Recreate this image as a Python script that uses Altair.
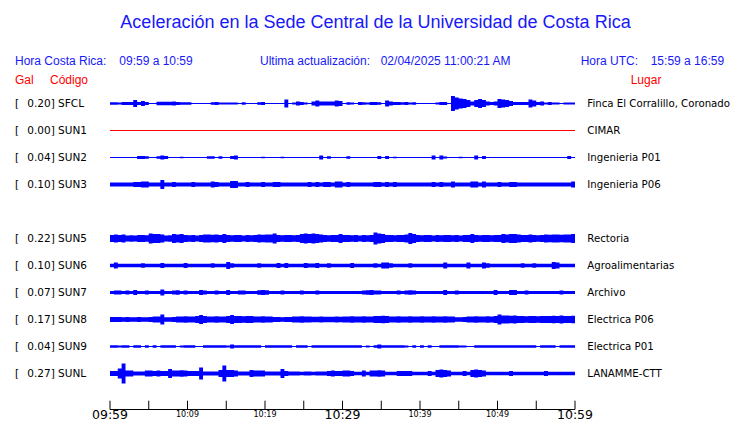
import altair as alt
import pandas as pd

# ---------------- data ----------------
station_codes = ["SFCL", "SUN1", "SUN2", "SUN3", "SUN5", "SUN6", "SUN7", "SUN8", "SUN9", "SUNL"]
gal_values = ["0.20", "0.00", "0.04", "0.10", "0.22", "0.10", "0.07", "0.17", "0.04", "0.27"]
places = ["Finca El Corralillo, Coronado", "CIMAR", "Ingenieria P01", "Ingenieria P06",
          "Rectoria", "Agroalimentarias", "Archivo", "Electrica P06", "Electrica P01", "LANAMME-CTT"]
row_slots = [0, 1, 2, 3, 5, 6, 7, 8, 9, 10]

bin_minutes = 0.5  # each amplitude value covers 30 s, 09:59 -> 10:59

# envelope half-amplitude of each trace (display units), one value per 30 s bin
amp_sfcl = [1.3, 1.3, 1.0, 1.5, 1.5, 1.5, 3.5, 1.5, 2.5, 1.5, 0.5, 0.5,
            1.8, 1.8, 1.8, 1.8, 2.0, 1.5, 1.2, 1.2, 1.2, 0.5, 0.5, 0.5,
            0.5, 0.5, 1.2, 1.5, 1.0, 1.0, 1.0, 1.0, 1.0, 0.5, 1.2, 0.5,
            0.5, 0.5, 1.2, 1.5, 0.5, 0.5, 0.5, 0.5, 0.5, 4.0, 0.5, 1.0,
            2.0, 1.5, 1.0, 0.5, 2.0, 3.0, 2.0, 2.0, 2.0, 2.0, 3.0, 2.5,
            0.5, 1.2, 1.0, 0.5, 1.5, 1.2, 1.0, 1.5, 1.5, 1.2, 0.5, 3.0,
            2.0, 1.5, 1.5, 1.2, 1.5, 1.0, 1.2, 0.5, 0.5, 0.5, 0.5, 0.5,
            1.0, 1.5, 1.5, 0.5, 7.5, 6.0, 5.0, 4.5, 3.5, 2.0, 3.5, 4.5,
            3.5, 2.0, 1.5, 2.0, 4.5, 4.0, 3.5, 2.5, 1.5, 1.5, 1.5, 1.5,
            4.0, 3.0, 1.5, 2.0, 1.0, 1.5, 1.0, 1.0, 0.5, 1.0, 1.0, 1.0]
amp_sun1 = [0.0, 0.0, 0.0, 0.0, 0.0, 0.0, 0.0, 0.0, 0.0, 0.0, 0.0, 0.0,
            0.0, 0.0, 0.0, 0.0, 0.0, 0.0, 0.0, 0.0, 0.0, 0.0, 0.0, 0.0,
            0.0, 0.0, 0.0, 0.0, 0.0, 0.0, 0.0, 0.0, 0.0, 0.0, 0.0, 0.0,
            0.0, 0.0, 0.0, 0.0, 0.0, 0.0, 0.0, 0.0, 0.0, 0.0, 0.0, 0.0,
            0.0, 0.0, 0.0, 0.0, 0.0, 0.0, 0.0, 0.0, 0.0, 0.0, 0.0, 0.0,
            0.0, 0.0, 0.0, 0.0, 0.0, 0.0, 0.0, 0.0, 0.0, 0.0, 0.0, 0.0,
            0.0, 0.0, 0.0, 0.0, 0.0, 0.0, 0.0, 0.0, 0.0, 0.0, 0.0, 0.0,
            0.0, 0.0, 0.0, 0.0, 0.0, 0.0, 0.0, 0.0, 0.0, 0.0, 0.0, 0.0,
            0.0, 0.0, 0.0, 0.0, 0.0, 0.0, 0.0, 0.0, 0.0, 0.0, 0.0, 0.0,
            0.0, 0.0, 0.0, 0.0, 0.0, 0.0, 0.0, 0.0, 0.0, 0.0, 0.0, 0.0]
amp_sun2 = [0.5, 0.5, 0.5, 0.5, 0.5, 0.5, 0.5, 1.5, 1.5, 1.2, 0.5, 0.5,
            1.2, 2.0, 1.5, 0.5, 0.5, 0.5, 0.8, 0.5, 0.5, 0.5, 0.5, 0.5,
            0.5, 1.2, 1.2, 0.5, 1.2, 0.5, 0.5, 1.5, 2.0, 0.5, 0.5, 0.5,
            0.5, 0.5, 0.5, 0.8, 0.5, 0.5, 0.5, 0.5, 0.8, 0.5, 0.5, 0.5,
            0.5, 0.5, 0.5, 0.5, 0.5, 0.5, 2.0, 0.5, 1.2, 0.5, 0.5, 0.5,
            0.5, 1.2, 0.5, 0.5, 0.5, 0.5, 0.5, 0.5, 0.5, 1.5, 0.5, 1.5,
            0.5, 0.8, 0.5, 0.5, 0.5, 0.5, 0.5, 0.5, 0.5, 0.5, 0.5, 2.0,
            0.5, 2.0, 1.0, 0.5, 0.5, 0.5, 0.8, 0.5, 0.5, 0.5, 2.0, 0.5,
            1.5, 0.5, 0.5, 0.5, 0.5, 0.5, 0.5, 0.5, 0.5, 0.5, 0.5, 0.5,
            0.5, 0.5, 0.5, 0.5, 0.5, 0.5, 0.5, 0.5, 0.5, 0.5, 1.5, 0.5]
amp_sun3 = [2.0, 2.0, 2.0, 2.0, 2.0, 2.0, 2.5, 2.5, 3.0, 3.0, 2.0, 2.0,
            2.0, 4.5, 2.0, 2.0, 2.5, 2.0, 2.0, 2.0, 2.0, 2.5, 2.0, 2.0,
            2.0, 2.0, 3.0, 2.5, 2.0, 2.0, 2.0, 3.5, 3.5, 2.0, 2.0, 2.5,
            2.0, 2.0, 2.0, 2.5, 2.0, 2.0, 2.5, 2.5, 2.0, 2.0, 2.0, 2.0,
            2.0, 2.0, 2.0, 2.5, 2.0, 2.5, 2.0, 2.5, 2.5, 2.0, 3.0, 3.0,
            2.0, 2.5, 2.0, 2.0, 2.0, 2.0, 2.0, 2.0, 2.5, 2.5, 2.0, 2.5,
            2.0, 2.5, 2.0, 2.0, 2.0, 2.0, 2.0, 2.0, 2.0, 2.0, 2.0, 2.5,
            2.0, 2.5, 2.0, 2.0, 3.0, 2.0, 2.0, 2.0, 2.0, 3.0, 3.0, 2.0,
            3.0, 2.0, 2.0, 2.0, 2.5, 2.0, 2.0, 2.5, 2.5, 2.0, 2.0, 2.0,
            2.0, 2.0, 2.0, 2.0, 2.0, 2.0, 2.0, 2.0, 2.0, 2.0, 2.0, 3.0]
amp_sun5 = [3.5, 4.0, 3.5, 4.0, 3.0, 3.2, 3.0, 3.5, 3.5, 3.2, 5.0, 4.5,
            4.5, 4.0, 3.0, 3.2, 4.5, 4.0, 4.5, 3.5, 3.2, 3.5, 3.0, 3.5,
            4.0, 4.0, 3.8, 4.0, 3.5, 4.5, 3.5, 3.2, 3.5, 3.5, 3.0, 3.5,
            3.2, 3.5, 4.0, 3.8, 4.0, 4.0, 5.0, 3.5, 3.2, 3.5, 3.5, 3.2,
            3.5, 4.5, 5.0, 4.5, 5.0, 4.5, 4.0, 3.5, 3.2, 3.5, 3.5, 4.5,
            3.5, 3.5, 3.2, 3.5, 3.0, 3.5, 3.2, 3.5, 6.0, 5.0, 4.5, 3.5,
            3.5, 3.2, 3.5, 3.5, 4.0, 5.5, 4.5, 3.5, 3.2, 3.5, 3.5, 3.0,
            3.5, 3.2, 3.5, 3.5, 3.2, 3.5, 3.0, 3.5, 3.5, 4.5, 3.5, 3.2,
            3.5, 3.5, 3.2, 3.5, 3.5, 4.5, 4.0, 4.5, 4.5, 4.0, 3.5, 3.5,
            4.0, 3.5, 3.2, 3.5, 4.0, 3.8, 4.0, 4.0, 3.8, 4.0, 4.0, 4.5]
amp_sun6 = [1.7, 3.0, 1.7, 1.7, 1.7, 1.7, 1.7, 1.7, 2.2, 1.7, 1.7, 1.7,
            1.7, 2.5, 1.7, 1.7, 1.7, 1.7, 1.7, 2.5, 1.7, 1.7, 1.7, 1.7,
            1.7, 1.7, 2.2, 1.7, 1.7, 1.7, 3.5, 2.2, 1.7, 1.7, 1.7, 1.7,
            1.7, 1.7, 2.2, 1.7, 1.7, 1.7, 1.7, 2.5, 1.7, 2.5, 1.7, 1.7,
            1.7, 1.7, 2.5, 2.0, 2.0, 2.5, 1.7, 1.7, 2.2, 1.7, 1.7, 1.7,
            1.7, 1.7, 2.5, 1.7, 1.7, 1.7, 1.7, 1.7, 2.2, 1.7, 3.0, 3.0,
            2.2, 1.7, 1.7, 1.7, 1.7, 2.2, 1.7, 1.7, 1.7, 1.7, 1.7, 1.7,
            1.7, 1.7, 3.0, 1.7, 1.7, 1.7, 1.7, 1.7, 3.0, 1.7, 1.7, 1.7,
            3.0, 2.2, 1.7, 1.7, 1.7, 1.7, 1.7, 1.7, 1.7, 1.7, 2.2, 1.7,
            1.7, 2.2, 1.7, 1.7, 1.7, 1.7, 3.5, 3.0, 1.7, 1.7, 1.7, 1.7]
amp_sun7 = [1.5, 2.0, 2.0, 1.5, 2.0, 1.5, 2.5, 1.5, 1.5, 2.0, 1.5, 1.5,
            1.5, 3.0, 1.5, 1.5, 2.0, 2.2, 1.5, 2.0, 1.5, 1.5, 1.5, 2.5,
            2.0, 1.5, 1.5, 2.0, 1.5, 1.5, 2.5, 1.5, 1.5, 2.0, 2.0, 1.5,
            1.5, 1.5, 2.2, 2.5, 2.2, 1.5, 1.5, 1.5, 2.0, 1.5, 1.5, 1.5,
            1.5, 2.0, 1.5, 1.5, 1.5, 2.0, 1.5, 1.5, 1.5, 1.5, 1.5, 1.5,
            1.5, 1.5, 1.5, 1.5, 1.5, 2.0, 2.2, 2.5, 2.0, 2.0, 1.5, 1.5,
            1.5, 1.5, 2.0, 1.5, 2.0, 2.2, 2.0, 1.5, 1.5, 1.5, 1.5, 1.5,
            1.5, 1.5, 2.5, 1.5, 1.5, 2.0, 1.5, 1.5, 1.5, 1.5, 1.5, 1.5,
            1.5, 1.5, 1.5, 2.5, 1.5, 1.5, 1.5, 2.5, 2.5, 1.5, 1.5, 2.0,
            1.5, 1.5, 1.5, 1.5, 1.5, 1.5, 1.5, 1.5, 2.0, 1.5, 1.5, 1.5]
amp_sun8 = [2.5, 2.5, 2.5, 2.2, 2.5, 2.2, 2.2, 2.5, 2.2, 2.2, 2.5, 3.0,
            3.0, 5.0, 2.2, 2.2, 2.5, 3.0, 3.0, 3.2, 3.0, 3.0, 3.5, 4.5,
            3.5, 3.0, 3.0, 3.2, 3.0, 3.0, 3.5, 4.5, 3.5, 3.5, 3.2, 3.5,
            3.5, 3.0, 3.0, 3.2, 3.0, 3.0, 2.5, 2.5, 2.2, 2.5, 2.5, 3.0,
            3.0, 3.2, 3.0, 3.0, 2.8, 2.8, 3.0, 2.8, 2.8, 2.8, 3.0, 2.8,
            3.0, 3.0, 3.2, 3.0, 3.0, 3.2, 3.0, 3.0, 3.5, 3.5, 3.8, 3.5,
            3.0, 3.0, 3.2, 3.0, 3.0, 3.2, 3.0, 3.0, 3.2, 3.0, 3.0, 3.2,
            3.0, 3.0, 3.2, 3.0, 3.0, 2.2, 2.2, 2.5, 3.0, 3.0, 3.2, 3.0,
            3.0, 3.2, 3.0, 3.5, 5.0, 4.0, 4.0, 3.8, 4.0, 3.5, 3.5, 3.2,
            3.5, 3.5, 3.2, 3.5, 3.5, 3.5, 3.8, 3.5, 4.0, 3.5, 3.5, 3.8]
amp_sun9 = [1.2, 1.2, 1.0, 1.3, 1.3, 0.5, 1.2, 1.2, 0.5, 1.3, 0.5, 1.2,
            0.5, 1.3, 1.3, 1.3, 1.2, 0.5, 1.0, 1.3, 1.3, 1.2, 0.5, 0.5,
            1.2, 1.3, 1.3, 1.2, 1.2, 1.2, 1.0, 2.0, 1.3, 1.3, 1.3, 1.3,
            1.3, 1.2, 1.2, 0.5, 1.3, 1.2, 1.3, 1.3, 1.2, 1.2, 1.2, 0.5,
            1.3, 1.3, 1.2, 0.5, 1.2, 1.3, 1.2, 1.3, 1.3, 1.3, 1.2, 1.2,
            1.2, 1.3, 1.3, 1.2, 1.2, 0.5, 1.0, 0.5, 1.2, 2.0, 1.3, 1.3,
            1.3, 1.3, 1.2, 1.2, 1.0, 0.5, 1.2, 0.5, 1.2, 0.5, 1.2, 0.5,
            0.5, 1.3, 1.3, 1.3, 1.3, 1.2, 1.0, 1.0, 0.5, 0.5, 1.3, 1.3,
            1.3, 1.3, 1.2, 1.2, 1.2, 1.2, 1.2, 1.3, 1.3, 1.2, 1.2, 1.2,
            1.2, 1.2, 0.5, 1.2, 1.2, 1.2, 1.2, 0.5, 1.3, 1.3, 1.3, 1.3]
amp_sunl = [2.5, 2.5, 5.0, 10.0, 3.0, 3.0, 2.0, 2.0, 2.0, 3.0, 3.0, 2.5,
            3.0, 2.5, 2.5, 4.5, 3.0, 3.0, 3.2, 3.0, 2.5, 2.5, 2.5, 6.0,
            2.0, 2.0, 2.0, 2.0, 3.5, 8.0, 3.5, 3.5, 3.0, 2.0, 2.0, 2.0,
            3.5, 3.0, 3.0, 3.0, 2.0, 2.0, 2.0, 2.0, 4.5, 2.5, 2.0, 2.0,
            2.0, 1.8, 2.0, 2.0, 1.8, 2.0, 2.0, 2.0, 2.5, 3.0, 2.5, 2.5,
            3.0, 3.0, 2.5, 1.8, 1.8, 3.0, 1.8, 3.0, 3.0, 3.2, 3.0, 1.8,
            1.8, 1.8, 2.5, 2.5, 2.5, 2.5, 1.8, 1.8, 1.8, 1.8, 2.5, 1.8,
            3.5, 4.0, 3.5, 3.0, 1.8, 1.8, 1.8, 2.5, 1.8, 3.5, 4.0, 3.5,
            3.0, 1.8, 1.8, 1.8, 1.8, 1.8, 1.8, 2.5, 1.8, 1.8, 1.8, 1.8,
            1.8, 1.8, 1.8, 1.8, 2.5, 1.8, 1.8, 1.8, 1.8, 1.8, 1.8, 1.8]
traces = [amp_sfcl, amp_sun1, amp_sun2, amp_sun3, amp_sun5,
          amp_sun6, amp_sun7, amp_sun8, amp_sun9, amp_sunl]

tick_minutes = [0, 5, 10, 15, 20, 25, 30, 35, 40, 45, 50, 55, 60]
label_minutes = [0, 10, 20, 30, 40, 50, 60]
time_labels = ["09:59", "10:09", "10:19", "10:29", "10:39", "10:49", "10:59"]

# ---------------- style / layout ----------------
W, H = 465, 321
BLUE_TXT = "#1818f8"
BLUE = "#0000ff"
RED = "#ff0000"
trace_colors = [BLUE, RED, BLUE, BLUE, BLUE, BLUE, BLUE, BLUE, BLUE, BLUE]
gain = 1 / 27.0          # display units -> row units
min_half = 0.5           # thinnest drawn trace

recs = []
for code, slot, amps in zip(station_codes, row_slots, traces):
    pts = list(enumerate(amps)) + [(len(amps), amps[-1])]
    for i, a in pts:
        h = max(a, min_half) * gain
        recs.append({"station": code, "t": i * bin_minutes, "lo": slot - h, "hi": slot + h})
trace_df = pd.DataFrame(recs)

label_df = pd.DataFrame({
    "slot": row_slots,
    "code": [f"{g}] {c}" for g, c in zip(gal_values, station_codes)],
    "place": places,
})
tick_df = pd.DataFrame({"m": tick_minutes})
tlab_df = pd.DataFrame({"m": label_minutes, "txt": time_labels})
one = pd.DataFrame({"k": [0]})

xs = alt.Scale(domain=[0, 60], nice=False, zero=False)
ys = alt.Scale(domain=[-0.574, 11.315], nice=False, zero=False, reverse=True)

trace_layer = alt.Chart(trace_df).mark_area(interpolate="step-after", opacity=1).encode(
    x=alt.X("t:Q", scale=xs, axis=None),
    y=alt.Y("lo:Q", scale=ys, axis=None),
    y2="hi:Q",
    color=alt.Color("station:N", scale=alt.Scale(domain=station_codes, range=trace_colors), legend=None),
    detail="station:N",
)

row_font = dict(font="DejaVu Sans", color="black", align="left", baseline="alphabetic", dy=3.8)
bracket_layer = alt.Chart(label_df).mark_text(text="[", fontSize=10.5, **row_font).encode(
    x=alt.value(-95), y=alt.Y("slot:Q", scale=ys, axis=None))
code_layer = alt.Chart(label_df).mark_text(fontSize=10.5, **row_font).encode(
    x=alt.value(-82.7), y=alt.Y("slot:Q", scale=ys, axis=None), text="code:N")
place_layer = alt.Chart(label_df).mark_text(fontSize=10.2, **row_font).encode(
    x=alt.value(477.3), y=alt.Y("slot:Q", scale=ys, axis=None), text="place:N")

tick_layer = alt.Chart(tick_df).mark_rule(color="black", strokeWidth=1).encode(
    x=alt.X("m:Q", scale=xs, axis=None), y=alt.value(312.7), y2=alt.value(321.5))
base_layer = alt.Chart(one).mark_rule(color="black", strokeWidth=1).encode(
    x=alt.value(0), x2=alt.value(W), y=alt.value(321.5))
tlab_layer = alt.Chart(tlab_df).mark_text(font="DejaVu Sans", color="black", baseline="middle", align="center").encode(
    x=alt.X("m:Q", scale=xs, axis=None), y=alt.value(327.3), text="txt:N",
    size=alt.condition("datum.m % 30 == 0", alt.value(12.5), alt.value(8)))


def note(txt, x, y, color, size, font="Liberation Sans", align="left"):
    return alt.Chart(one).mark_text(text=txt, align=align, baseline="alphabetic", color=color,
                                    fontSize=size, font=font).encode(x=alt.value(x), y=alt.value(y))


header = [
    note("Aceleración en la Sede Central de la Universidad de Costa Rica", 265.5, -59.7, BLUE_TXT, 18, align="center"),
    note("Hora Costa Rica:", -95, -23, BLUE_TXT, 12),
    note("09:59 a 10:59", 9.3, -23, BLUE_TXT, 12),
    note("Ultima actualización:", 150, -23, BLUE_TXT, 12),
    note("02/04/2025 11:00:21 AM", 270.7, -23, BLUE_TXT, 12),
    note("Hora UTC:", 470.7, -23, BLUE_TXT, 12),
    note("15:59 a 16:59", 540.7, -23, BLUE_TXT, 12),
    note("Gal", -95, -3.7, RED, 12),
    note("Código", -60, -3.7, RED, 12),
    note("Lugar", 520.7, -3.7, RED, 12),
]

chart = alt.layer(
    trace_layer, bracket_layer, code_layer, place_layer,
    tick_layer, base_layer, tlab_layer, *header
).properties(
    width=W, height=H,
    padding={"left": 102, "top": 80, "right": 157, "bottom": 13},
    autosize=alt.AutoSizeParams(type="none"),
).configure_view(stroke=None)

chart.save("out.html", embed_options={"renderer": "svg", "actions": False})
